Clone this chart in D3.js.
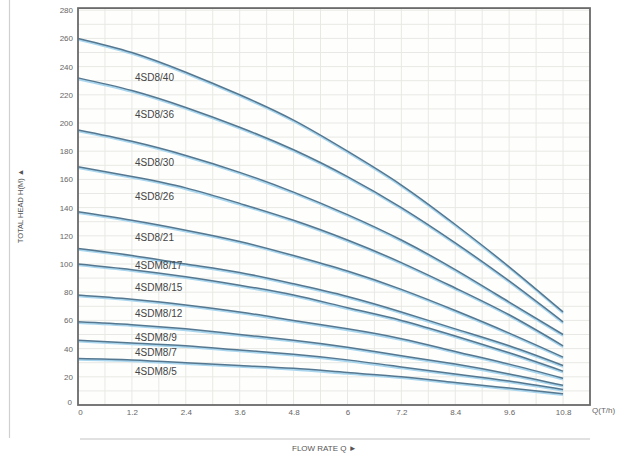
<!DOCTYPE html>
<html>
<head>
    <title>Pump Curves 4SD8 / 4SDM8</title>
    <script src="https://d3js.org/d3.v7.min.js"></script>
    <style>
        body {margin: 0; background: #ffffff;}
        svg {font-family: "Liberation Sans", Arial, sans-serif; display: block;}
    </style>
</head>
<body>
<script>
    const flow = [0, 1.2, 2.4, 3.6, 4.8, 6, 7.2, 8.4, 9.6, 10.8];
    const xTicks = [0, 1.2, 2.4, 3.6, 4.8, 6, 7.2, 8.4, 9.6, 10.8];
    const yTicks = [0, 20, 40, 60, 80, 100, 120, 140, 160, 180, 200, 220, 240, 260, 280];

    // model names and head values (m)
    const models = ["4SD8/40", "4SD8/36", "4SD8/30", "4SD8/26", "4SD8/21", "4SDM8/17",
                    "4SDM8/15", "4SDM8/12", "4SDM8/9", "4SDM8/7", "4SDM8/5"];
    const heads = [
        [260, 250, 236, 220, 202, 180, 156, 128, 98, 66],
        [232, 223, 211, 197, 181, 162, 140, 115, 88, 59],
        [195, 187, 177, 165, 151, 135, 117, 96, 73, 50],
        [169, 162, 154, 143, 131, 117, 101, 83, 64, 42],
        [137, 131, 124, 116, 106, 95, 82, 67, 51, 34],
        [111, 106, 100, 94, 86, 77, 66, 54, 42, 28],
        [100, 96, 91, 85, 78, 69, 60, 49, 37, 24],
        [78, 75, 71, 66, 60, 54, 47, 38, 29, 19],
        [59, 57, 54, 50, 46, 41, 35, 29, 22, 14],
        [46, 44, 42, 39, 36, 32, 27, 22, 17, 11],
        [33, 32, 30, 28, 26, 23, 20, 16, 12, 8]
    ];
    // where each model name sits (flow, head)
    const labelQ = 1.27;
    const labelH = [232, 206, 172, 148, 119, 99, 83, 65, 48, 37, 24];

    const width = 635, height = 457;

    const svg = d3.select("body").append("svg")
        .attr("width", width)
        .attr("height", height);

    const x = d3.scaleLinear().domain([0, 11.4]).range([78, 590]);
    const y = d3.scaleLinear().domain([0, 280]).range([405, 10.2]);

    // plot background
    svg.append("rect")
        .attr("x", x(0)).attr("y", y(281.5))
        .attr("width", x(11.4) - x(0)).attr("height", y(0) - y(281.5))
        .attr("fill", "#fefefd");

    // grid: vertical every 0.6, horizontal every 10
    svg.append("g").selectAll("line")
        .data(d3.range(1, 19).map(i => i * 0.6))
        .join("line")
        .attr("x1", d => x(d)).attr("x2", d => x(d))
        .attr("y1", y(281.5)).attr("y2", y(0))
        .attr("stroke", "#e8e8e4").attr("stroke-width", 1);

    svg.append("g").selectAll("line")
        .data(d3.range(1, 29).map(i => i * 10))
        .join("line")
        .attr("x1", x(0)).attr("x2", x(11.4))
        .attr("y1", d => y(d)).attr("y2", d => y(d))
        .attr("stroke", "#e8e8e4").attr("stroke-width", 1);

    // curves
    const line = d3.line()
        .x((d, i) => x(flow[i]))
        .y(d => y(d))
        .curve(d3.curveNatural);

    // light blue halo under each curve
    svg.append("g").selectAll("path")
        .data(heads)
        .join("path")
        .attr("d", line)
        .attr("transform", "translate(0,1.2)")
        .attr("fill", "none")
        .attr("stroke", "#a9d6ee")
        .attr("stroke-width", 2.2);

    svg.append("g").selectAll("path")
        .data(heads)
        .join("path")
        .attr("d", line)
        .attr("fill", "none")
        .attr("stroke", "#557890")
        .attr("stroke-width", 1.5);

    // model labels
    svg.append("g").selectAll("text")
        .data(models)
        .join("text")
        .attr("x", x(labelQ))
        .attr("y", (d, i) => y(labelH[i]))
        .attr("dy", "0.35em")
        .attr("font-size", 10)
        .attr("fill", "#444")
        .text(d => d);

    // frame
    svg.append("rect")
        .attr("x", x(0)).attr("y", y(281.5))
        .attr("width", x(11.4) - x(0)).attr("height", y(0) - y(281.5))
        .attr("fill", "none")
        .attr("stroke", "#6a6a6a")
        .attr("stroke-width", 1.8);

    // axes tick labels
    const yAxis = svg.append("g")
        .attr("transform", `translate(${x(0)},0)`)
        .call(d3.axisLeft(y).tickValues(yTicks).tickSize(0).tickPadding(5).tickFormat(d3.format("d")));
    yAxis.select(".domain").remove();
    yAxis.selectAll("text").attr("font-size", 8).attr("fill", "#666").attr("font-family", null);
    yAxis.selectAll(".tick").filter(d => d === 0).select("text").attr("dy", "-0.1em").attr("dx", "-1");

    const xAxis = svg.append("g")
        .attr("transform", `translate(0,${y(0)})`)
        .call(d3.axisBottom(x).tickValues(xTicks).tickSize(0).tickPadding(4).tickFormat(d => d));
    xAxis.select(".domain").remove();
    xAxis.selectAll("text").attr("font-size", 8).attr("fill", "#666").attr("font-family", null);
    xAxis.selectAll(".tick").filter(d => d === 0).select("text").attr("dx", "2");

    svg.append("text")
        .attr("x", 592).attr("y", 413)
        .attr("font-size", 8).attr("fill", "#666")
        .text("Q(T/h)");

    // outer decorations
    svg.append("line")
        .attr("x1", 9.5).attr("x2", 9.5).attr("y1", 0).attr("y2", 438)
        .attr("stroke", "#d0d0d0").attr("stroke-width", 1.2);

    svg.append("line")
        .attr("x1", 80).attr("x2", 590).attr("y1", 439).attr("y2", 439)
        .attr("stroke", "#c4c4c4").attr("stroke-width", 1.2);

    svg.append("text")
        .attr("x", 292).attr("y", 451)
        .attr("font-size", 8).attr("fill", "#555")
        .text("FLOW RATE Q  \u25BA");

    svg.append("text")
        .attr("transform", "translate(23,206) rotate(-90)")
        .attr("text-anchor", "middle")
        .attr("font-size", 7.5).attr("fill", "#555")
        .text("TOTAL HEAD H(M)  \u25B2");
</script>
</body>
</html>
